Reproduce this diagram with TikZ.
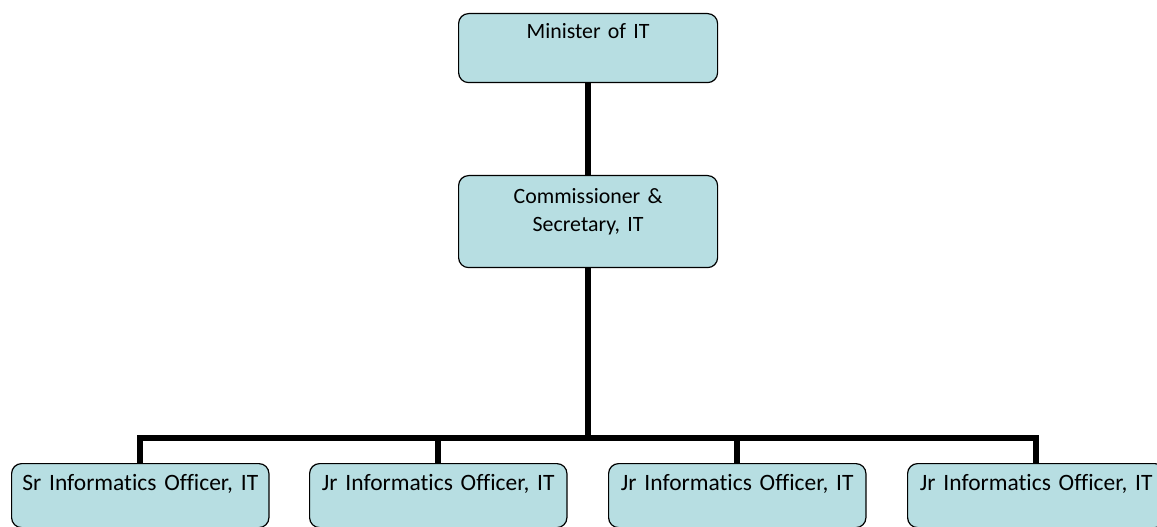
\documentclass[tikz,border=0pt]{standalone}
\usepackage{fontspec}
\setmainfont{Carlito}[Ligatures=CommonOff]
\usetikzlibrary{positioning}
\definecolor{postfill}{RGB}{183,222,226}

\begin{document}
\begin{tikzpicture}[x=0.75pt,y=-0.75pt,
  post/.style={draw,line width=0.9pt,fill=postfill,rounded corners=7.5pt,anchor=north west,
    inner sep=0pt,align=center,font=\fontsize{17.6}{21}\selectfont,
    text width=193pt,text height=20.25pt,text depth=27.75pt},
  head/.style={post,font=\fontsize{16.4}{21}\selectfont,text width=194.25pt},
  link/.style={line width=4.3pt}]
  \useasboundingbox (0,0) rectangle (1157,527);

  \node[head,text height=18.75pt,text depth=33pt] (minister) at (458,13) {Minister of IT};
  \node[head,text height=21pt,text depth=48pt] (commissioner) at (458,175) {Commissioner \&\\ Secretary, IT};
  \node[post] (srio)  at (11,463)  {Sr Informatics Officer, IT};
  \node[post] (jrio1) at (309,463) {Jr Informatics Officer, IT};
  \node[post] (jrio2) at (608,463) {Jr Informatics Officer, IT};
  \node[post] (jrio3) at (907,463) {Jr Informatics Officer, IT};

  \coordinate (bus) at (588,438);

  \path[link] (minister) edge (commissioner);
  \draw[link] (commissioner) -- (commissioner |- bus);
  \draw[link] (srio.north) -- (srio.north |- bus) -- (jrio3.north |- bus) -- (jrio3.north);
  \draw[link] (jrio1.north) -- (jrio1.north |- bus);
  \draw[link] (jrio2.north) -- (jrio2.north |- bus);
\end{tikzpicture}
\end{document}
